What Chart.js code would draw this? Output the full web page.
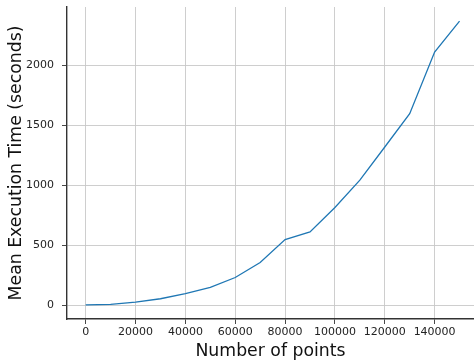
<!DOCTYPE html>
<html>
<head>
<meta charset="utf-8">
<script src="https://cdn.jsdelivr.net/npm/chart.js@4/dist/chart.umd.min.js"></script>
<style>
  html, body { margin: 0; padding: 0; background: #fff; }
  #wrap { width: 474px; height: 362px; position: relative; }
</style>
</head>
<body>
<div id="wrap"><canvas id="chart"></canvas></div>
<script>
// Mean execution time vs number of points
const points = [0, 10000, 20000, 30000, 40000, 50000, 60000, 70000, 80000,
  90000, 100000, 110000, 120000, 130000, 140000, 150000];
const seconds = [2, 6, 25, 53, 95, 147, 230, 355, 547,
  611, 814, 1042, 1319, 1597, 2111, 2369];

const xTicks = [0, 20000, 40000, 60000, 80000, 100000, 120000, 140000];
const yTicks = [0, 500, 1000, 1500, 2000];

const tickFont = { family: 'DejaVu Sans', size: 11 };
const titleFont = { family: 'DejaVu Sans', size: 17.3 };
const spineColor = '#333';
const gridColor = '#c8c8c8';

new Chart(document.getElementById('chart'), {
  type: 'line',
  data: {
    datasets: [{
      data: points.map((p, i) => ({ x: p, y: seconds[i] })),
      borderColor: '#1f77b4',
      borderWidth: 1.3,
      pointRadius: 0,
      fill: false,
      tension: 0,
    }],
  },
  options: {
    responsive: true,
    maintainAspectRatio: false,
    animation: false,
    layout: { padding: { top: 7, right: 0, left: 0, bottom: 0 } },
    plugins: { legend: { display: false }, tooltip: { enabled: false } },
    scales: {
      x: {
        type: 'linear',
        min: -7500,
        max: 155800,
        afterBuildTicks: (s) => { s.ticks = xTicks.map((v) => ({ value: v })); },
        afterFit: (s) => { s.height = 43; },
        grid: { color: gridColor, lineWidth: 0.9, tickColor: spineColor, tickLength: 5 },
        border: { color: spineColor, width: 1.4 },
        ticks: { color: '#222', font: tickFont, padding: 2, maxRotation: 0, autoSkip: false,
          callback: (v) => String(v) },
        title: { display: true, text: 'Number of points', color: '#111',
          font: titleFont, padding: { top: 0, bottom: 0 } },
      },
      y: {
        type: 'linear',
        min: -116,
        max: 2487,
        afterBuildTicks: (s) => { s.ticks = yTicks.map((v) => ({ value: v })); },
        afterFit: (s) => { s.width = 67; s.paddingTop = 0; s.paddingBottom = 0; },
        grid: { color: gridColor, lineWidth: 0.9, tickColor: spineColor, tickLength: 5 },
        border: { color: spineColor, width: 1.4 },
        ticks: { color: '#222', font: tickFont, padding: 8, callback: (v) => String(v) },
        title: { display: true, text: 'Mean Execution Time (seconds)', color: '#111',
          font: titleFont, padding: { top: 6, bottom: 0 } },
      },
    },
  },
});
</script>
</body>
</html>
